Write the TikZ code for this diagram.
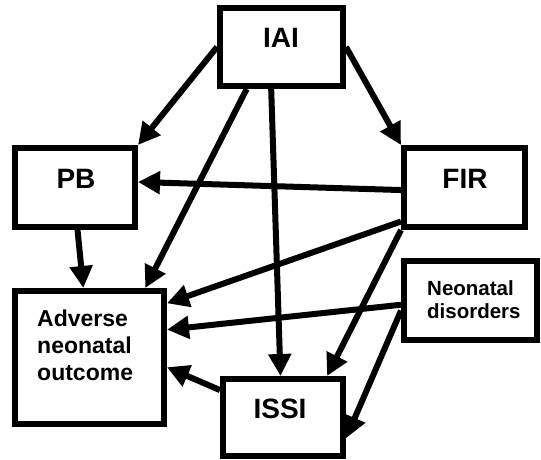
\documentclass[tikz,border=0pt]{standalone}
\usepackage{fontspec}
\setmainfont{Liberation Sans}
\usetikzlibrary{arrows.meta,calc}
\begin{document}
\begin{tikzpicture}[x=1pt,y=-1pt,
  box/.style={draw=black, line width=6pt, rectangle, inner sep=0pt},
  lbl/.style={inner sep=0pt, font=\bfseries\fontsize{28}{32}\selectfont},
  multilbl/.style={inner sep=0pt, align=left, anchor=north west},
  conn/.style={line width=6pt, -{Triangle[length=22pt,width=22pt]}}]
\useasboundingbox (0,0) rectangle (541,460);
% boxes
\node[box, minimum width=123pt, minimum height=78pt] (iai) at (281.5,47) {};
\node[box, minimum width=120pt, minimum height=79pt] (pb) at (75,187.5) {};
\node[box, minimum width=121pt, minimum height=79pt] (fir) at (464.5,187.5) {};
\node[box, minimum width=149pt, minimum height=133pt] (ano) at (89.5,357.5) {};
\node[box, minimum width=133pt, minimum height=79pt] (nd) at (470.5,300.5) {};
\node[box, minimum width=120pt, minimum height=77pt] (issi) at (283,417.5) {};
% texts
\node[lbl] (iaitext) at (281,37.5) {IAI};
\node[lbl] (pbtext) at (76,179) {PB};
\node[lbl] (firtext) at (465,179) {FIR};
\node[lbl] (issitext) at (280,409) {ISSI};
\node[multilbl, font=\bfseries\fontsize{23}{27}\selectfont] (anotext) at (37,310) {Adverse\\neonatal\\outcome};
\node[multilbl, font=\bfseries\fontsize{20.5}{23}\selectfont] (ndtext) at (427,280) {Neonatal\\disorders};
% connectors
\draw[conn] (iai.west) -- (pb.north east);
\draw[conn] (iai.east) -- (fir.north west);
\draw[conn] ($(iai.south west)!0.23!(iai.south east)$) -- ($(ano.north west)!0.86!(ano.north east)$);
\draw[conn] ($(iai.south west)!0.42!(iai.south east)$) -- ($(issi.north west)!0.48!(issi.north east)$);
\draw[conn] ($(fir.north west)!0.53!(fir.south west)$) -- ($(pb.north east)!0.435!(pb.south east)$);
\draw[conn] ($(fir.north west)!0.9!(fir.south west)$) -- ($(ano.north east)!0.11!(ano.south east)$);
\draw[conn] (fir.south west) -- ($(issi.north west)!0.85!(issi.north east)$);
\draw[conn] ($(nd.north west)!0.55!(nd.south west)$) -- ($(ano.north east)!0.30!(ano.south east)$);
\draw[conn] ($(nd.north west)!0.62!(nd.south west)$) -- ($(issi.north east)!0.75!(issi.south east)$);
\draw[conn] ($(issi.north west)!0.17!(issi.south west)$) -- ($(ano.north east)!0.57!(ano.south east)$);
\draw[conn] ($(pb.south west)!0.52!(pb.south east)$) -- ($(ano.north west)!0.46!(ano.north east)$);
\end{tikzpicture}
\end{document}
